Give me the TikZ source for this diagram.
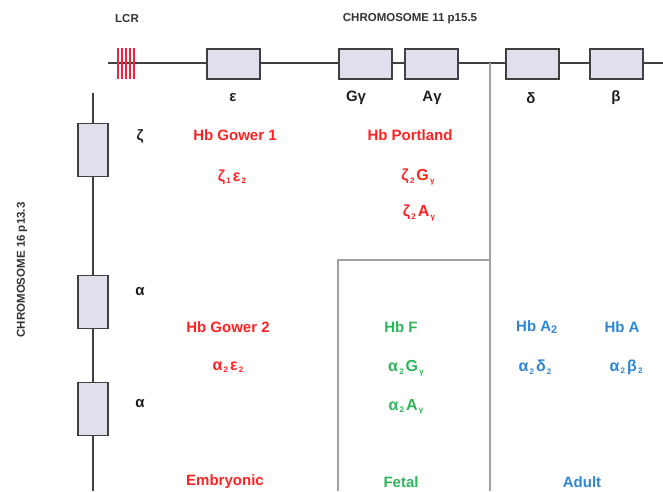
\documentclass[tikz,border=0pt]{standalone}
\usepackage{fontspec}
\setmainfont{Liberation Sans}
\definecolor{genefill}{HTML}{E2DEEC}
\definecolor{geneline}{HTML}{404040}
\definecolor{divider}{HTML}{A0A0A0}
\definecolor{embred}{HTML}{FF2222}
\definecolor{fetgreen}{HTML}{2EB55A}
\definecolor{adublue}{HTML}{2F86D4}
\definecolor{lcrred}{RGB}{232,40,50}
\tikzset{
  chrom/.style={draw=geneline, line width=1.2pt},
  hgene/.style={draw=geneline, fill=genefill, line width=1.3pt, minimum width=53pt, minimum height=30pt, inner sep=0pt},
  vgene/.style={draw=geneline, fill=genefill, line width=1.3pt, minimum width=30pt, minimum height=53pt, inner sep=0pt},
  sep/.style={draw=divider, line width=1.2pt},
  lcrmark/.style={draw=lcrred, line width=1.5pt},
  chromlabel/.style={font=\fontsize{11.5}{13}\selectfont\bfseries, text=black!80},
  genelabel/.style={font=\fontsize{15}{17}\selectfont\bfseries, text=black!88},
  hb/.style={font=\fontsize{15}{18}\selectfont\bfseries},
  chain/.style={font=\fontsize{16}{19}\selectfont\bfseries},
}
\newcommand\chainsub[1]{\kern1.2pt\textsubscript{\fontsize{8}{8}\selectfont #1}\kern1.5pt}
\begin{document}
\begin{tikzpicture}[x=1pt, y=-1pt]
\useasboundingbox (0,0) rectangle (663,491);

% chromosome 11 (beta-globin cluster)
\coordinate (c11start) at (108,63);
\coordinate (c11end) at (663,63);
\node[hgene] (eps) at (233.5,64) {};
\node[hgene] (Gg) at (365.5,64) {};
\node[hgene] (Ag) at (431.5,64) {};
\node[hgene] (del) at (532.5,64) {};
\node[hgene] (bet) at (616.5,64) {};
\draw[chrom] (c11start) -- (eps.west|-c11start);
\draw[chrom] (eps.east|-c11start) -- (Gg.west|-c11start);
\draw[chrom] (Gg.east|-c11start) -- (Ag.west|-c11start);
\draw[chrom] (Ag.east|-c11start) -- (del.west|-c11start);
\draw[chrom] (del.east|-c11start) -- (bet.west|-c11start);
\draw[chrom] (bet.east|-c11start) -- (c11end);

% locus control region
\foreach \x in {118,122,126,130,134}
  \draw[lcrmark] (\x,48) -- (\x,79);

\node[chromlabel] (lcr) at (127,19) {LCR};
\node[chromlabel] (c11) at (410,19) {CHROMOSOME 11 p15.5};

\node[genelabel] (leps) at (233,98) {ε};
\node[genelabel] (lGg) at (356,98) {Gγ};
\node[genelabel] (lAg) at (432,98) {Aγ};
\node[genelabel] (ldel) at (531,98) {δ};
\node[genelabel] (lbet) at (616,98) {β};

% chromosome 16 (alpha-globin cluster)
\coordinate (c16start) at (93,93);
\coordinate (c16end) at (93,491);
\node[vgene] (zet) at (93,150) {};
\node[vgene] (alA) at (93,302) {};
\node[vgene] (alB) at (93,409) {};
\draw[chrom] (c16start) -- (zet.north);
\draw[chrom] (zet.south) -- (alA.north);
\draw[chrom] (alA.south) -- (alB.north);
\draw[chrom] (alB.south) -- (c16end);

\node[chromlabel, rotate=90] (c16) at (22,270) {CHROMOSOME 16 p13.3};
\node[genelabel] (lzet) at (140,137) {ζ};
\node[genelabel] (lalA) at (140,292) {α};
\node[genelabel] (lalB) at (140,404) {α};

% stage dividers
\coordinate (d1top) at (490,63);
\coordinate (d1bot) at (490,491);
\coordinate (d2corner) at (490,260);
\coordinate (d2top) at (338,260);
\coordinate (d2bot) at (338,491);
\draw[sep] (d1top) -- (d1bot);
\draw[sep] (d2corner) -- (d2top) -- (d2bot);

% embryonic haemoglobins
\node[hb, text=embred] (gow1) at (235,135) {Hb Gower 1};
\node[chain, text=embred] (gow1c) at (233,177) {ζ\chainsub{1}ε\chainsub{2}};
\node[hb, text=embred] (port) at (410,135) {Hb Portland};
\node[chain, text=embred] (portG) at (419,177) {ζ\chainsub{2}G\chainsub{γ}};
\node[chain, text=embred] (portA) at (420,213) {ζ\chainsub{2}A\chainsub{γ}};
\node[hb, text=embred] (gow2) at (228,327) {Hb Gower 2};
\node[chain, text=embred] (gow2c) at (229,367) {α\chainsub{2}ε\chainsub{2}};
\node[hb, text=embred] (emb) at (225,482) {Embryonic};

% fetal haemoglobin
\node[hb, text=fetgreen] (hbf) at (401,327) {Hb F};
\node[chain, text=fetgreen] (hbfG) at (407,368) {α\chainsub{2}G\chainsub{γ}};
\node[chain, text=fetgreen] (hbfA) at (407,407) {α\chainsub{2}A\chainsub{γ}};
\node[hb, text=fetgreen] (fet) at (401,482) {Fetal};

% adult haemoglobins
\node[hb, text=adublue] (hba2) at (537,327) {Hb A\textsubscript{\fontsize{11}{11}\selectfont 2}};
\node[chain, text=adublue] (hba2c) at (536,367) {α\chainsub{2}δ\chainsub{2}};
\node[hb, text=adublue] (hba) at (622,327) {Hb A};
\node[chain, text=adublue] (hbac) at (627,367) {α\chainsub{2}β\chainsub{2}};
\node[hb, text=adublue] (adu) at (582,482) {Adult};
\end{tikzpicture}
\end{document}
